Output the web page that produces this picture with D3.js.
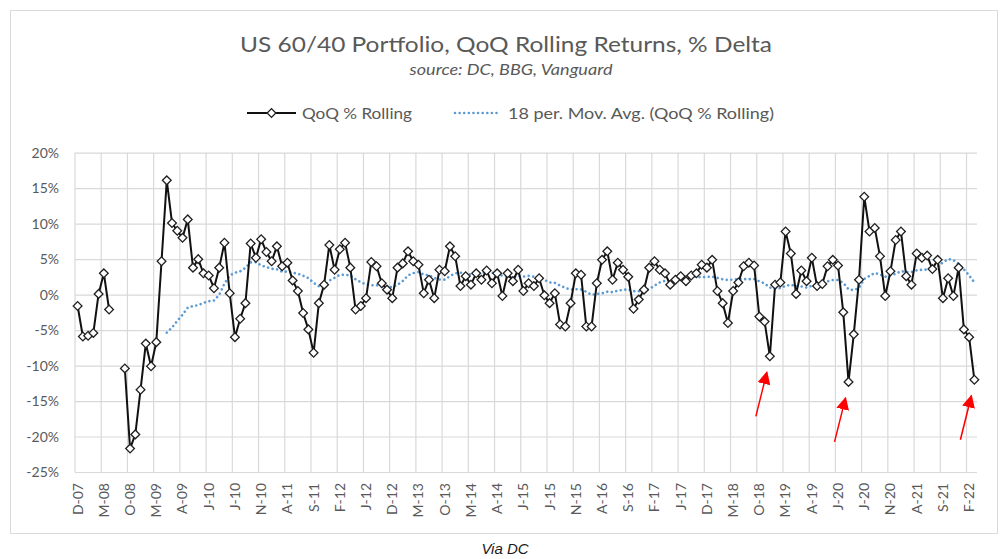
<!DOCTYPE html>
<html><head><meta charset="utf-8">
<script src="https://cdn.jsdelivr.net/npm/d3@7"></script>
<style>
body{margin:0;background:#fff}
svg{display:block}
text{font-family:Lato,'Open Sans','Noto Sans',sans-serif}
</style>
</head><body>
<svg id="chart" width="1004" height="559"></svg>
<script>
// ---------------- data ----------------
const firstMonth = new Date(2007, 11, 1);   // Dec 2007
const lastMonthExcl = new Date(2022, 3, 1);  // up to Mar 2022
const returnsPct = [
  -1.6,-5.9,-5.8,-5.4,0.1,3.0,-2.1,null,null,-10.4,
  -21.7,-19.7,-13.4,-6.9,-10.1,-6.7,4.7,16.1,10.1,9.0,
  8.0,10.6,3.8,5.0,3.0,2.7,0.9,3.8,7.3,0.2,
  -6.0,-3.4,-1.2,7.2,5.2,7.8,6.0,4.7,6.8,4.0,
  4.5,2.0,0.5,-2.6,-4.9,-8.2,-1.2,1.4,7.0,3.5,
  6.4,7.3,3.8,-2.1,-1.6,-0.5,4.6,4.0,1.6,0.7,
  -0.5,3.8,4.4,6.1,4.7,4.2,0.2,2.1,-0.5,3.5,
  3.3,6.8,5.4,1.2,2.6,1.4,3.0,2.1,3.4,1.6,
  3.0,-0.2,3.0,1.9,3.5,0.5,1.6,1.2,2.3,-0.1,
  -1.2,0.2,-4.2,-4.5,-1.2,3.0,2.8,-4.5,-4.5,1.6,
  4.9,6.1,2.1,4.5,3.5,2.5,-2.0,-0.7,0.7,3.8,
  4.7,3.5,3.0,1.4,2.1,2.6,1.9,2.7,3.0,4.2,
  3.8,4.9,0.5,-1.2,-4.0,0.5,1.7,4.0,4.5,4.1,
  -3.1,-3.8,-8.7,1.4,1.7,8.9,5.8,0.1,3.4,1.9,
  5.2,1.2,1.5,4.0,4.9,4.1,-2.5,-12.3,-5.6,2.1,
  13.8,8.9,9.4,5.4,-0.2,3.3,7.7,8.9,2.6,1.4,
  5.8,5.2,5.5,3.6,4.9,-0.5,2.3,-0.2,3.8,-4.9,
  -6.0,-12.0
];
const tickLabels = ["D-07","M-08","O-08","M-09","A-09","J-10","J-10","N-10","A-11","S-11",
  "F-12","J-12","D-12","M-13","O-13","M-14","A-14","J-15","J-15","N-15",
  "A-16","S-16","F-17","J-17","D-17","M-18","O-18","M-19","A-19","J-20",
  "J-20","N-20","A-21","S-21","F-22"];
const tickEvery = 5;
const yTicks = [-25,-20,-15,-10,-5,0,5,10,15,20];
const maPeriod = 18;
const arrowAt = [132, 147, 171];   // data indices pointed at by the red arrows

const titleText = "US 60/40 Portfolio, QoQ Rolling Returns, % Delta";
const subtitleText = "source: DC, BBG, Vanguard";
const seriesName = "QoQ % Rolling";
const maName = "18 per. Mov. Avg. (QoQ % Rolling)";
const footerText = "Via DC";

// ---------------- layout ----------------
const months = d3.timeMonth.range(firstMonth, lastMonthExcl);
const idx = d3.range(months.length);
const plot = {left:75, right:977, top:152.7, bottom:472};
const grey = "#595959", gridC = "#d9d9d9";

const svg = d3.select("#chart");

svg.append("rect").attr("x",10.5).attr("y",10.5).attr("width",987).attr("height",523)
  .attr("fill","#fff").attr("stroke","#d9d9d9");

const x = d3.scaleBand().domain(idx).range([plot.left, plot.right]).paddingInner(0).paddingOuter(0);
const cx = i => x(i) + x.bandwidth()/2;
const y = d3.scaleLinear().domain([d3.min(yTicks), d3.max(yTicks)]).range([plot.bottom, plot.top]);

// horizontal gridlines
const gy = svg.append("g").attr("transform",`translate(${plot.left},0)`)
  .call(d3.axisLeft(y).tickValues(yTicks).tickSize(-(plot.right-plot.left)).tickFormat(""));
gy.select(".domain").remove();
gy.selectAll("line").attr("stroke",gridC).attr("stroke-width",1.2);

// vertical gridlines at category boundaries every 5 months
const gridIdx = idx.filter(i => i % tickEvery === 0);
svg.append("g").selectAll("line").data(gridIdx).join("line")
  .attr("x1",i=>x(i)).attr("x2",i=>x(i))
  .attr("y1",plot.top).attr("y2",plot.bottom)
  .attr("stroke",gridC).attr("stroke-width",1.2);

// y axis labels
const ay = svg.append("g").attr("transform",`translate(${plot.left},0)`)
  .call(d3.axisLeft(y).tickValues(yTicks).tickSize(0).tickPadding(16).tickFormat(d=>d+"%"));
ay.select(".domain").remove();
ay.selectAll("text").attr("fill",grey).style("font-size","14px");

// x axis labels
const ax = svg.append("g").attr("transform",`translate(0,${plot.bottom})`)
  .call(d3.axisBottom(x).tickValues(gridIdx).tickSize(0).tickFormat((d,k)=>tickLabels[k]));
ax.select(".domain").remove();
ax.selectAll("text")
  .attr("transform","rotate(-90)")
  .attr("x",-11).attr("y",0).attr("dy","0.35em")
  .attr("text-anchor","end")
  .attr("fill",grey).style("font-size","14px");

// moving average (trailing window of 18 periods, blanks skipped)
const maData = idx.map(i => {
  if (i < maPeriod-1) return null;
  const w = returnsPct.slice(i-maPeriod+1, i+1).filter(v => v != null);
  return d3.mean(w);
});
svg.append("path").datum(idx)
  .attr("fill","none").attr("stroke","#5b9bd5").attr("stroke-width",2.6)
  .attr("stroke-linecap","round").attr("stroke-dasharray","0.01,4.6")
  .attr("d", d3.line().defined(i=>maData[i]!=null).x(cx).y(i=>y(maData[i])));

// main series line
svg.append("path").datum(idx)
  .attr("fill","none").attr("stroke","#111").attr("stroke-width",2)
  .attr("stroke-linejoin","round")
  .attr("d", d3.line().defined(i=>returnsPct[i]!=null).x(cx).y(i=>y(returnsPct[i])));

// markers
const diamond = d3.symbol(d3.symbolSquare, 38);
svg.append("g").selectAll("path").data(idx.filter(i=>returnsPct[i]!=null)).join("path")
  .attr("d", diamond)
  .attr("transform", i=>`translate(${cx(i)},${y(returnsPct[i])}) rotate(45)`)
  .attr("fill","#fff").attr("stroke","#1f1f1f").attr("stroke-width",1.3);

// red arrows
const defs = svg.append("defs");
defs.append("marker").attr("id","ah").attr("viewBox","0 0 10 10").attr("refX",9).attr("refY",5)
  .attr("markerWidth",13).attr("markerHeight",13).attr("markerUnits","userSpaceOnUse")
  .attr("orient","auto")
  .append("path").attr("d","M0,0 L10,5 L0,10 Z").attr("fill","#ff0000");
svg.append("g").selectAll("line").data(arrowAt).join("line")
  .attr("x1",i=>cx(i)-14).attr("y1",i=>y(returnsPct[i])+60)
  .attr("x2",i=>cx(i)-3).attr("y2",i=>y(returnsPct[i])+16)
  .attr("stroke","#ff0000").attr("stroke-width",1.5)
  .attr("marker-end","url(#ah)");

// titles
svg.append("text").attr("x",506).attr("y",52).attr("text-anchor","middle")
  .attr("fill",grey).style("font-size","22px")
  .attr("textLength",532).attr("lengthAdjust","spacingAndGlyphs").text(titleText);
svg.append("text").attr("x",511).attr("y",75).attr("text-anchor","middle")
  .attr("fill",grey).style("font-size","16px").style("font-style","italic")
  .attr("textLength",203).attr("lengthAdjust","spacingAndGlyphs").text(subtitleText);

// legend
const lg = svg.append("g");
lg.append("line").attr("x1",247).attr("x2",296).attr("y1",113).attr("y2",113)
  .attr("stroke","#111").attr("stroke-width",2);
lg.append("path").attr("d",diamond).attr("transform","translate(271.5,113) rotate(45)")
  .attr("fill","#fff").attr("stroke","#1f1f1f").attr("stroke-width",1.3);
lg.append("text").attr("x",302).attr("y",119).attr("fill",grey).style("font-size","16px")
  .attr("textLength",110).attr("lengthAdjust","spacingAndGlyphs").text(seriesName);
lg.append("line").attr("x1",455).attr("x2",500).attr("y1",113).attr("y2",113)
  .attr("stroke","#5b9bd5").attr("stroke-width",2.6).attr("stroke-linecap","round")
  .attr("stroke-dasharray","0.01,4.6");
lg.append("text").attr("x",508).attr("y",119).attr("fill",grey).style("font-size","16px")
  .attr("textLength",266).attr("lengthAdjust","spacingAndGlyphs").text(maName);

// footer
svg.append("text").attr("x",505).attr("y",554).attr("text-anchor","middle")
  .attr("fill","#1a1a1a").style("font-family","'Liberation Sans',Arial,sans-serif")
  .style("font-size","15px").style("font-style","italic").text(footerText);
</script>
</body></html>
